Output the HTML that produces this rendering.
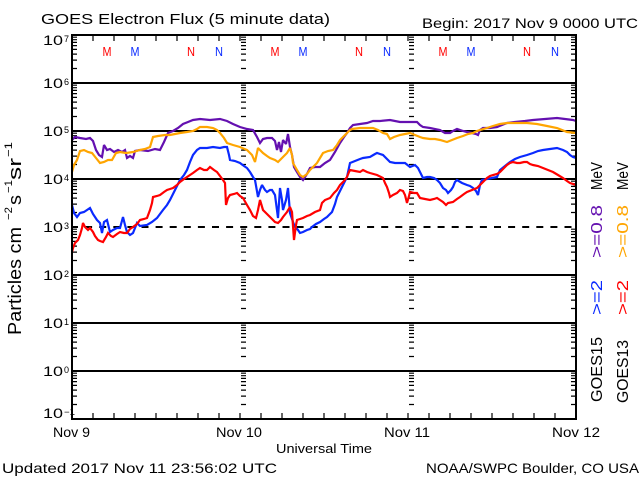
<!DOCTYPE html>
<html><head><meta charset="utf-8"><style>
html,body{margin:0;padding:0;background:#fff;}
svg{display:block;}
text{font-family:"Liberation Sans","DejaVu Sans",sans-serif;fill:#000;}
</style></head><body>
<svg width="640" height="480" viewBox="0 0 640 480" xmlns="http://www.w3.org/2000/svg">
<defs>
<clipPath id="pa"><rect x="72" y="35" width="504" height="384"/></clipPath>
<path id="dec" d="M0,-14.5h5M0,-22.9h5M0,-28.9h5M0,-33.6h5M0,-37.4h5M0,-40.6h5M0,-43.3h5M0,-45.8h5" stroke="#000" stroke-width="1.2" fill="none"/>
<g id="col">
<use href="#dec" y="83"/><use href="#dec" y="131"/><use href="#dec" y="179"/><use href="#dec" y="227"/>
<use href="#dec" y="275"/><use href="#dec" y="323"/><use href="#dec" y="371"/><use href="#dec" y="419"/>
</g>
</defs>
<rect width="640" height="480" fill="#fff"/>

<!-- grid -->
<g stroke="#000" stroke-width="2" fill="none">
<path d="M72,83H576M72,131H576M72,179H576M72,275H576M72,323H576M72,371H576"/>
<path d="M71,227H576" stroke-dasharray="7 7.1"/>
</g>

<!-- minor ticks -->
<use href="#col" x="72"/>
<use href="#col" x="241"/>
<use href="#col" x="409"/>
<use href="#col" x="571"/>

<!-- time ticks -->
<path stroke="#000" stroke-width="1.2" fill="none" d="
M93,419v-6M114,419v-6M135,419v-6M156,419v-6M177,419v-6M198,419v-6M219,419v-6M240,419v-6M261,419v-6M282,419v-6M303,419v-6M324,419v-6M345,419v-6M366,419v-6M387,419v-6M408,419v-6M429,419v-6M450,419v-6M471,419v-6M492,419v-6M513,419v-6M534,419v-6M555,419v-6
M93,35v6M114,35v6M135,35v6M156,35v6M177,35v6M198,35v6M219,35v6M240,35v6M261,35v6M282,35v6M303,35v6M324,35v6M345,35v6M366,35v6M387,35v6M408,35v6M429,35v6M450,35v6M471,35v6M492,35v6M513,35v6M534,35v6M555,35v6"/>

<!-- series -->
<g clip-path="url(#pa)" fill="none" stroke-width="2.2" stroke-linejoin="miter" stroke-miterlimit="2">
<polyline stroke="#6410b0" points="72,140 75,137 80,138 86,139 90,138 93,141 96,150 99,155 102,157 104,145 107,150 110,149 114,152 118,150 122,152 125,150 127,158 130,156 133,158 135,151 140,150 148,151 155,149 160,150 164,142 168,133 173,131 178,128 183,124 188,122 193,120 200,119 210,120 220,119 227,121 233,124 240,127 247,129 253,130 257,137 260,143 263,139 267,138 272,138 275,141 277,150 279,142 281,152 283,140 286,144 288,134 290,147 292,155 294,167 297,172 300,177 303,180 307,174 310,168 315,167 320,167 325,163 330,160 335,152 340,143 344,137 347,133 350,128 353,125 360,124 367,123 373,121 380,121 390,120 400,122 410,122 417,122 420,125 423,127 430,128 440,130 445,133 450,133 453,131 457,129 463,131 467,132 472,133 476,134 478,135 480,130 483,128 490,128 497,127 502,125 507,123 515,122 525,121 533,120 545,119 557,118 565,119 573,120 576,121"/>
<polyline stroke="#ffa500" points="72,172 74,165 77,160 80,151 84,150 88,152 92,153 96,158 100,163 104,162 108,160 112,160 116,153 120,152 126,153 133,152 140,150 145,149 150,147 153,137 158,136 165,135 170,135 175,134 180,133 187,132 193,131 197,129 200,127 207,127 213,128 217,130 220,133 224,138 227,143 233,145 240,147 247,150 252,155 255,162 258,148 263,153 267,156 270,158 275,160 278,162 282,158 287,153 290,148 292,155 293,163 297,170 300,175 303,177 307,174 310,170 313,167 317,163 320,158 323,153 328,151 333,150 337,145 340,140 344,136 347,133 350,130 352,129 360,128 373,128 378,130 383,133 387,134 390,139 394,137 400,135 405,134 410,133 415,135 420,137 423,138 430,139 435,139 440,140 447,142 452,140 457,138 463,136 468,134 473,133 477,131 480,130 487,128 493,126 500,124 507,123 515,123 527,123 537,124 547,126 557,128 567,132 576,133"/>
<polyline stroke="#0a2aff" points="72,205 74,213 77,217 80,213 84,212 87,210 90,208 93,214 97,220 100,223 102,233 104,222 107,220 110,232 113,230 117,228 120,228 123,217 125,225 127,232 130,235 133,233 137,223 140,226 147,225 152,222 157,218 160,214 163,210 167,205 170,200 173,194 175,190 178,184 180,180 184,175 187,170 190,162 193,155 197,150 200,148 207,148 213,147 220,148 224,147 227,147 229,155 230,160 235,161 240,163 244,166 247,168 250,172 253,177 255,180 258,197 260,190 262,185 265,190 267,192 270,190 272,190 275,195 278,218 280,188 282,200 283,210 286,200 288,188 290,213 293,222 295,227 298,230 300,233 303,232 307,230 310,229 312,227 316,224 320,222 324,219 327,217 330,214 332,212 335,204 337,197 340,191 342,187 345,181 347,177 350,163 355,161 360,159 363,158 370,157 375,154 377,153 380,154 383,155 387,159 390,162 395,163 400,163 405,163 410,167 415,165 418,168 420,172 423,178 427,177 430,177 434,178 437,180 440,183 443,188 446,190 448,193 451,190 453,187 455,182 457,180 462,183 467,185 470,186 473,188 476,191 478,195 480,185 482,180 487,179 492,178 497,177 500,170 505,166 510,162 515,159 520,157 527,155 533,153 538,151 543,150 550,149 557,148 563,150 567,152 570,155 573,157 576,158"/>
<polyline stroke="#ff0000" points="72,252 73,248 75,243 78,240 80,235 82,228 83,223 85,227 88,230 90,228 93,232 95,236 98,240 100,241 103,242 106,237 108,233 111,236 113,237 117,234 120,232 124,233 127,233 130,229 133,227 137,224 140,220 144,219 147,218 150,210 152,203 153,197 157,196 160,195 164,192 167,190 170,189 173,188 177,185 180,182 184,179 187,177 190,175 193,173 197,170 200,168 204,170 207,170 210,167 214,170 217,172 220,176 223,180 225,183 226,205 228,198 230,195 234,194 237,193 240,196 243,198 247,205 250,210 253,216 256,218 258,210 260,200 263,210 266,213 268,215 272,219 275,222 278,223 281,220 283,217 287,212 290,207 292,212 294,240 296,225 297,220 300,219 303,218 307,216 310,215 315,212 320,210 322,203 325,200 330,198 334,193 337,190 340,185 344,181 347,177 349,172 350,170 355,171 360,172 363,170 367,172 370,173 377,175 383,178 385,183 387,187 389,193 390,197 393,195 397,193 400,190 403,191 405,195 407,203 409,196 410,192 414,193 417,193 420,198 425,199 430,200 434,199 437,198 440,200 443,202 446,205 448,203 453,202 457,199 460,197 464,194 467,192 472,190 477,188 480,185 483,182 487,178 490,176 493,175 497,174 500,172 504,168 507,165 510,163 513,162 517,163 520,163 524,162 527,162 530,164 533,165 538,166 543,168 548,170 553,172 558,175 563,178 567,181 570,183 573,184 576,185"/>
</g>

<!-- axes box -->
<rect x="72" y="35" width="504" height="384" fill="none" stroke="#000" stroke-width="2"/>

<!-- M/N markers -->
<g font-size="13">
<text x="102.5" y="56" textLength="9" lengthAdjust="spacingAndGlyphs" style="fill:#ff0000">M</text>
<text x="130.5" y="56" textLength="9" lengthAdjust="spacingAndGlyphs" style="fill:#0a2aff">M</text>
<text x="187" y="56" textLength="8" lengthAdjust="spacingAndGlyphs" style="fill:#ff0000">N</text>
<text x="215" y="56" textLength="8" lengthAdjust="spacingAndGlyphs" style="fill:#0a2aff">N</text>
<text x="270.5" y="56" textLength="9" lengthAdjust="spacingAndGlyphs" style="fill:#ff0000">M</text>
<text x="298.5" y="56" textLength="9" lengthAdjust="spacingAndGlyphs" style="fill:#0a2aff">M</text>
<text x="355" y="56" textLength="8" lengthAdjust="spacingAndGlyphs" style="fill:#ff0000">N</text>
<text x="383" y="56" textLength="8" lengthAdjust="spacingAndGlyphs" style="fill:#0a2aff">N</text>
<text x="438.5" y="56" textLength="9" lengthAdjust="spacingAndGlyphs" style="fill:#ff0000">M</text>
<text x="466.5" y="56" textLength="9" lengthAdjust="spacingAndGlyphs" style="fill:#0a2aff">M</text>
<text x="523" y="56" textLength="8" lengthAdjust="spacingAndGlyphs" style="fill:#ff0000">N</text>
<text x="551" y="56" textLength="8" lengthAdjust="spacingAndGlyphs" style="fill:#0a2aff">N</text>
</g>

<!-- titles -->
<text x="41" y="24" font-size="15" textLength="289" lengthAdjust="spacingAndGlyphs">GOES Electron Flux (5 minute data)</text>
<text x="422" y="28" font-size="14" textLength="216" lengthAdjust="spacingAndGlyphs">Begin: 2017 Nov 9 0000 UTC</text>

<!-- y tick labels -->
<g font-size="14">
<text x="43" y="45" textLength="20" lengthAdjust="spacingAndGlyphs">10</text>
<text x="43" y="88" textLength="20" lengthAdjust="spacingAndGlyphs">10</text>
<text x="43" y="136" textLength="20" lengthAdjust="spacingAndGlyphs">10</text>
<text x="43" y="184" textLength="20" lengthAdjust="spacingAndGlyphs">10</text>
<text x="43" y="232" textLength="20" lengthAdjust="spacingAndGlyphs">10</text>
<text x="43" y="280" textLength="20" lengthAdjust="spacingAndGlyphs">10</text>
<text x="43" y="328" textLength="20" lengthAdjust="spacingAndGlyphs">10</text>
<text x="43" y="376" textLength="20" lengthAdjust="spacingAndGlyphs">10</text>
<text x="43" y="418" textLength="20" lengthAdjust="spacingAndGlyphs">10</text>
</g>
<g font-size="9">
<text x="64" y="42">7</text>
<text x="64" y="85">6</text>
<text x="64" y="133">5</text>
<text x="64" y="181">4</text>
<text x="64" y="229">3</text>
<text x="64" y="277">2</text>
<text x="64" y="325">1</text>
<text x="64" y="373">0</text>
<text x="64" y="415" textLength="11" lengthAdjust="spacingAndGlyphs">−1</text>
</g>

<!-- x labels -->
<g font-size="14">
<text x="53" y="437" textLength="37" lengthAdjust="spacingAndGlyphs">Nov 9</text>
<text x="216" y="437" textLength="46" lengthAdjust="spacingAndGlyphs">Nov 10</text>
<text x="384" y="437" textLength="46" lengthAdjust="spacingAndGlyphs">Nov 11</text>
<text x="552" y="437" textLength="48" lengthAdjust="spacingAndGlyphs">Nov 12</text>
</g>
<text x="276" y="453" font-size="13" textLength="96" lengthAdjust="spacingAndGlyphs">Universal Time</text>
<text x="2" y="473" font-size="14" textLength="275" lengthAdjust="spacingAndGlyphs">Updated 2017 Nov 11 23:56:02 UTC</text>
<text x="426" y="473" font-size="14" textLength="213" lengthAdjust="spacingAndGlyphs">NOAA/SWPC Boulder, CO USA</text>

<!-- y axis label -->
<g font-size="18">
<text transform="translate(21,335) rotate(-90)" textLength="108" lengthAdjust="spacingAndGlyphs">Particles cm</text>
<text transform="translate(21,205) rotate(-90)" textLength="10" lengthAdjust="spacingAndGlyphs">s</text>
<text transform="translate(21,180) rotate(-90)" textLength="22" lengthAdjust="spacingAndGlyphs">sr</text>
</g>
<g font-size="11">
<text transform="translate(12,220) rotate(-90)" textLength="13" lengthAdjust="spacingAndGlyphs">−2</text>
<text transform="translate(12,193) rotate(-90)" textLength="13" lengthAdjust="spacingAndGlyphs">−1</text>
<text transform="translate(12,157) rotate(-90)" textLength="15" lengthAdjust="spacingAndGlyphs">−1</text>
</g>

<!-- right legend -->
<g font-size="16">
<text transform="translate(602,402) rotate(-90)" textLength="65" lengthAdjust="spacingAndGlyphs">GOES15</text>
<text transform="translate(602,315) rotate(-90)" textLength="35" lengthAdjust="spacingAndGlyphs" style="fill:#0a2aff">&gt;=2</text>
<text transform="translate(602,258) rotate(-90)" textLength="53" lengthAdjust="spacingAndGlyphs" style="fill:#6410b0">&gt;=0.8</text>
<text transform="translate(602,190) rotate(-90)" textLength="28" lengthAdjust="spacingAndGlyphs">MeV</text>
<text transform="translate(628,403) rotate(-90)" textLength="63" lengthAdjust="spacingAndGlyphs">GOES13</text>
<text transform="translate(628,315) rotate(-90)" textLength="35" lengthAdjust="spacingAndGlyphs" style="fill:#ff0000">&gt;=2</text>
<text transform="translate(628,258) rotate(-90)" textLength="53" lengthAdjust="spacingAndGlyphs" style="fill:#ffa500">&gt;=0.8</text>
<text transform="translate(628,190) rotate(-90)" textLength="28" lengthAdjust="spacingAndGlyphs">MeV</text>
</g>
</svg>
</body></html>
